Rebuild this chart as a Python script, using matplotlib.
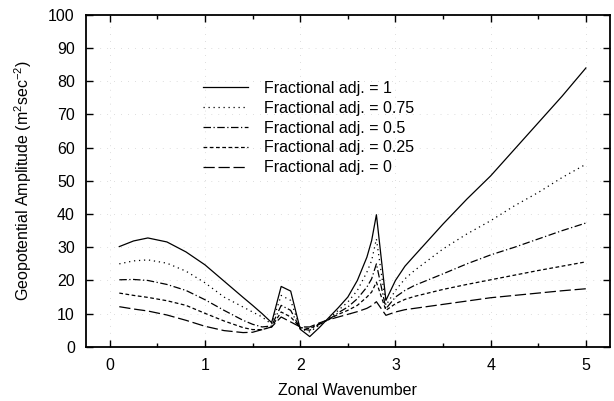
import matplotlib
matplotlib.use("Agg")
import matplotlib.pyplot as plt
from matplotlib.ticker import MultipleLocator

plt.rcParams['font.family'] = ['Liberation Sans', 'DejaVu Sans']
plt.rcParams['mathtext.default'] = 'regular'

# zonal wavenumber samples
wavenumber = [0.1, 0.25, 0.4, 0.6, 0.8, 1.0, 1.2, 1.4, 1.5, 1.6, 1.7, 1.8, 1.9, 2.0,
              2.1, 2.2, 2.3, 2.4, 2.5, 2.6, 2.7, 2.75, 2.8, 2.9, 3.0, 3.1, 3.2, 3.5,
              3.75, 4.0, 4.25, 4.5, 4.75, 5.0]

adj_1 = [30.2, 31.9, 32.8, 31.6, 28.6, 24.7, 19.8, 14.9, 12.5, 10.0, 7.3, 18.2, 16.8, 5.3,
         3.1, 5.8, 8.8, 11.8, 15.0, 20.0, 27.0, 32.0, 39.8, 14.0, 20.0, 24.3, 27.5, 37.0,
         44.5, 51.5, 59.5, 67.5, 75.5, 84.0]
adj_075 = [25.0, 25.9, 26.2, 25.2, 22.8, 19.3, 15.0, 12.0, 10.5, 9.0, 6.8, 15.5, 14.0, 5.5,
           4.5, 6.5, 8.5, 11.0, 13.5, 17.0, 22.5, 26.0, 32.5, 12.5, 17.0, 20.5, 23.0, 29.5,
           34.0, 38.0, 42.5, 46.5, 51.0, 55.0]
adj_05 = [20.2, 20.3, 20.0, 18.8, 17.0, 14.2, 11.0, 8.0, 6.8, 6.0, 6.3, 12.5, 11.0, 5.5,
          5.0, 6.8, 8.2, 10.3, 12.0, 14.5, 18.0, 20.5, 25.0, 11.5, 15.0, 17.0, 18.5, 22.0,
          25.0, 27.7, 30.0, 32.5, 35.0, 37.3]
adj_025 = [16.2, 15.5, 14.9, 13.9, 12.5, 10.1, 7.8, 5.8, 5.2, 5.2, 6.0, 10.5, 9.0, 5.8,
           5.5, 7.0, 8.3, 9.8, 11.0, 12.5, 15.0, 16.5, 19.5, 11.0, 13.0, 14.3, 15.2, 17.3,
           18.8, 20.2, 21.6, 23.0, 24.3, 25.6]
adj_0 = [12.1, 11.4, 10.8, 9.6, 8.0, 6.2, 4.9, 4.3, 4.4, 5.2, 6.0, 9.0, 7.5, 6.0,
         6.0, 7.2, 8.2, 9.0, 9.8, 10.6, 11.6, 12.4, 13.6, 9.5, 10.5, 11.2, 11.6, 12.8,
         13.8, 14.8, 15.5, 16.2, 16.9, 17.5]

labels = ['Fractional adj. = 1', 'Fractional adj. = 0.75', 'Fractional adj. = 0.5',
          'Fractional adj. = 0.25', 'Fractional adj. = 0']
series = [adj_1, adj_075, adj_05, adj_025, adj_0]
styles = ['-', (0, (1, 3)), (0, (6, 2, 1, 2)), (0, (3, 2)), (0, (9, 3))]

fig = plt.figure(figsize=(6.14, 4.01), dpi=100)
ax = fig.add_axes([0.140, 0.135, 0.853, 0.828])

for vals, ls, lab in zip(series, styles, labels):
    ax.plot(wavenumber, vals, color='black', linestyle=ls, linewidth=0.9, label=lab)

ax.set_xlim(-0.25, 5.25)
ax.set_ylim(0, 100)
ax.xaxis.set_major_locator(MultipleLocator(1))
ax.xaxis.set_minor_locator(MultipleLocator(0.5))
ax.yaxis.set_major_locator(MultipleLocator(10))
ax.tick_params(which='both', direction='in', top=True, right=True, labelsize=11.5, pad=8)
ax.tick_params(which='major', length=5, width=1)
ax.tick_params(which='minor', length=3, width=1)
# faint dotted grid, barely visible in the scan
ax.grid(True, color='0.75', linestyle=(0, (1, 9)), linewidth=0.5)
for s in ax.spines.values():
    s.set_linewidth(1.3)

ax.set_xlabel('Zonal Wavenumber', fontsize=11.5, labelpad=7)
ax.set_ylabel('Geopotential Amplitude (m$^{2}$sec$^{-2}$)', fontsize=11.5, labelpad=10)

ax.legend(loc='upper left', bbox_to_anchor=(0.212, 0.82), frameon=False, fontsize=11.5,
          handlelength=2.8, handletextpad=1.0, labelspacing=0.3, borderaxespad=0)

fig.savefig('out.png', dpi=100)
